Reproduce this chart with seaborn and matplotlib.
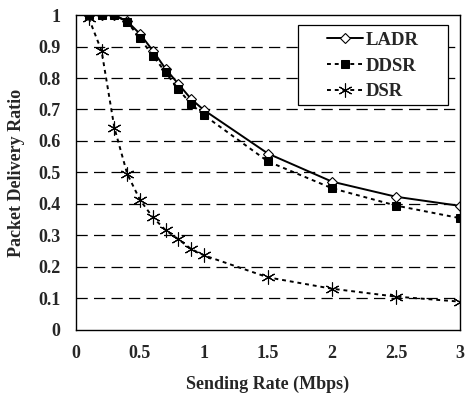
import numpy as np
import pandas as pd
import matplotlib
matplotlib.use("Agg")
import matplotlib.pyplot as plt
from matplotlib.patches import Rectangle
import seaborn as sns

RATES = [0.1, 0.2, 0.3, 0.4, 0.5, 0.6, 0.7, 0.8, 0.9, 1.0, 1.5, 2.0, 2.5, 3.0]
LADR = [1.0, 1.0, 1.0, 0.98, 0.94, 0.887, 0.829, 0.781, 0.733, 0.698, 0.56, 0.471, 0.423, 0.394]
DDSR = [1.0, 1.0, 1.0, 0.978, 0.926, 0.871, 0.818, 0.764, 0.717, 0.682, 0.535, 0.45, 0.395, 0.355]
DSR = [0.99, 0.886, 0.642, 0.496, 0.413, 0.358, 0.317, 0.288, 0.257, 0.237, 0.167, 0.131, 0.106, 0.09]

sns.set_style("white")
plt.rcParams['font.family'] = ['Liberation Serif', 'DejaVu Serif']
plt.rcParams['font.weight'] = 'bold'

fig = plt.figure(figsize=(4.65, 3.98), dpi=100)
ax = fig.add_axes([0.1634, 0.1709, 0.9892 - 0.1634, 0.9623 - 0.1709])

# horizontal dashed grid
for yv in np.arange(0.1, 1.0, 0.1):
    ax.axhline(yv, color="black", lw=0.9, ls=(0, (9, 5)), zorder=0)

sns.lineplot(x=RATES, y=LADR, ax=ax, color="black", lw=1.4, ls="-",
             marker="D", markersize=5.5, markerfacecolor="white",
             markeredgecolor="black", markeredgewidth=0.8, label="LADR")
sns.lineplot(x=RATES, y=DDSR, ax=ax, color="black", lw=1.4, ls=(0, (2, 2)),
             marker="s", markersize=5.5, markerfacecolor="black",
             markeredgecolor="black", label="DDSR")
sns.lineplot(x=RATES, y=DSR, ax=ax, color="black", lw=1.4, ls=(0, (2, 2)),
             marker=(6, 2, 0), markersize=10, markeredgecolor="black",
             markeredgewidth=0.8, label="DSR")

ax.set_xlim(0, 3)
ax.set_ylim(0, 1)
ax.set_xticks([0, 0.5, 1, 1.5, 2, 2.5, 3])
ax.set_xticklabels(["0", "0.5", "1", "1.5", "2", "2.5", "3"])
ax.set_yticks(np.round(np.arange(0, 1.01, 0.1), 1))
ax.set_yticklabels(["0", "0.1", "0.2", "0.3", "0.4", "0.5", "0.6", "0.7", "0.8", "0.9", "1"])
ax.tick_params(axis="x", length=0, labelsize=13, pad=11)
ax.tick_params(axis="y", length=0, labelsize=13, pad=11)
for lab in ax.get_xticklabels() + ax.get_yticklabels():
    lab.set_fontweight("bold")

for sp in ax.spines.values():
    sp.set_color("black")
    sp.set_linewidth(1.0)

ax.set_xlabel("Sending Rate (Mbps)", fontsize=13, fontweight="bold", labelpad=10)
ax.set_ylabel("Packet Delivery Ratio", fontsize=13, fontweight="bold", labelpad=10)

# legend box drawn separately so the entries sit centred with wide side margins
ax.add_patch(Rectangle((0.578, 0.714), 0.391, 0.254, transform=ax.transAxes,
                       facecolor="white", edgecolor="black", lw=0.9, zorder=5))
leg = ax.legend(loc="center", bbox_to_anchor=(0.7735, 0.838), frameon=False,
                handlelength=1.9, handletextpad=0.15, labelspacing=0.45,
                prop={"weight": "bold", "size": 13.5}, borderpad=0)
leg.set_zorder(6)

fig.savefig("out.png", dpi=100)
